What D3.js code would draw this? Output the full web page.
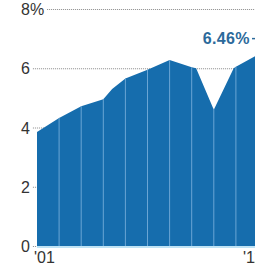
<!DOCTYPE html>
<html>
<head>
<meta charset="utf-8">
<script src="https://cdnjs.cloudflare.com/ajax/libs/d3/7.8.5/d3.min.js"></script>
<style>
  body { margin: 0; background: #fff; }
  svg { display: block; }
  .tick-label { font-family: "Liberation Sans", Arial, sans-serif; font-size: 16px; fill: #333; }
</style>
</head>
<body>
<div id="chart"></div>
<script>
const W = 255, H = 267;

// rate over time (year, percent)
const years  = [2001, 2002, 2003, 2004, 2004.4, 2005, 2006, 2007, 2008, 2008.2, 2009, 2009.9, 2010, 2011];
const values = [3.85, 4.32, 4.72, 4.95, 5.3,    5.65, 5.95, 6.28, 6.03, 6.0,    4.6,  6.0,    6.05, 6.46];
const yTicks = [0, 2, 4, 6, 8];
const yTickLabels = ['0', '2', '4', '6', '8%'];
const xTicks = [2001, 2011];
const xTickLabels = ["'01", "'11"];
const yearLines = [2002, 2003, 2004, 2005, 2006, 2007, 2008, 2009, 2010];
const lastLabel = '6.46%';

const data = years.map((d, i) => ({ year: d, value: values[i] }));

const x = d3.scaleLinear().domain([2001, 2011]).range([37, 258]);
const y = d3.scaleLinear().domain([0, 8]).range([246, 9]);

const svg = d3.select('#chart').append('svg').attr('width', W).attr('height', H);

// y labels + dotted grid lines (grid starts just after the label)
const yg = svg.append('g');
yTicks.forEach((t, i) => {
    const txt = yg.append('text').attr('class', 'tick-label')
        .attr('x', 21).attr('y', y(t) + 6)
        .text(yTickLabels[i]);
    const w = txt.node().getComputedTextLength();
    yg.append('line')
        .attr('x1', 21 + w + 3).attr('x2', W)
        .attr('y1', y(t) + 0.5).attr('y2', y(t) + 0.5)
        .attr('stroke', '#8a8a8a').attr('stroke-width', 1)
        .attr('stroke-dasharray', '1,1');
});

const area = d3.area()
    .x(d => x(d.year))
    .y0(y(0))
    .y1(d => y(d.value));

svg.append('clipPath').attr('id', 'areaClip')
    .append('path').attr('d', area(data));

svg.append('path')
    .attr('d', area(data))
    .attr('fill', '#166dad');

// faint year separators inside the area
svg.append('g').attr('clip-path', 'url(#areaClip)')
    .selectAll('line').data(yearLines).join('line')
    .attr('x1', d => x(d)).attr('x2', d => x(d))
    .attr('y1', y(0)).attr('y2', 0)
    .attr('stroke', '#6aa5d4').attr('stroke-width', 1);

// light baseline
svg.append('line')
    .attr('x1', x(2001)).attr('x2', W)
    .attr('y1', y(0) + 1).attr('y2', y(0) + 1)
    .attr('stroke', '#bfe3f5').attr('stroke-width', 2);

// x labels
svg.selectAll('.xl').data(xTicks).join('text')
    .attr('class', 'tick-label xl')
    .attr('x', (d, i) => i === 0 ? x(d) - 3 : x(d) - 15)
    .attr('y', 263)
    .text((d, i) => xTickLabels[i]);

// value callout for the last point
const last = data[data.length - 1];
svg.append('text')
    .attr('x', x(last.year) - 8).attr('y', y(last.value) - 11)
    .attr('text-anchor', 'end')
    .attr('font-family', '"Liberation Sans", Arial, sans-serif')
    .attr('font-size', 16).attr('font-weight', 'bold')
    .attr('letter-spacing', 0.4)
    .attr('fill', '#2c6a9b')
    .attr('stroke', '#fff').attr('stroke-width', 3).attr('paint-order', 'stroke')
    .text(lastLabel);
svg.append('line')
    .attr('x1', x(last.year) - 6).attr('x2', x(last.year))
    .attr('y1', y(last.value) - 16).attr('y2', y(last.value) - 16)
    .attr('stroke', '#2c6a9b').attr('stroke-width', 1.5);
</script>
</body>
</html>
